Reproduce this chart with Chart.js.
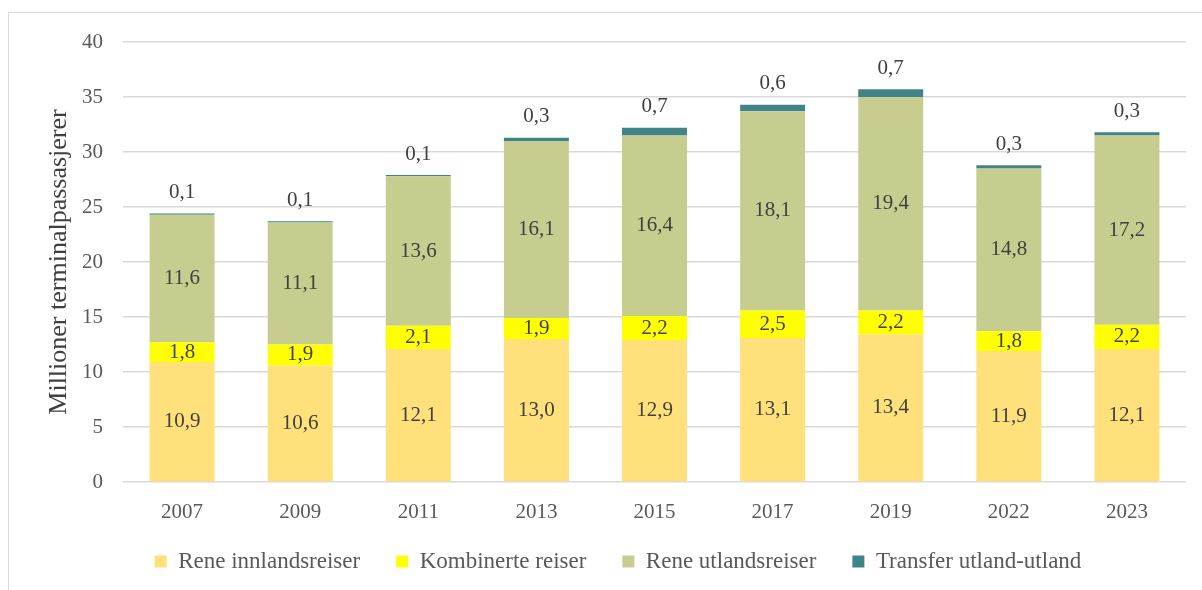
<!DOCTYPE html>
<html>
<head>
<meta charset="utf-8">
<script src="https://cdn.jsdelivr.net/npm/chart.js@4/dist/chart.umd.min.js"></script>
<style>
  html, body { margin: 0; padding: 0; background: #fff; }
  #wrap { position: relative; width: 1202px; height: 590px; overflow: hidden; }
  #frame { position: absolute; left: 8px; top: 12px; width: 1300px; height: 700px;
           border-left: 1.5px solid #d9d9d9; border-top: 1.5px solid #d9d9d9; }
  canvas { position: absolute; left: 0; top: 0; }
</style>
</head>
<body>
<div id="wrap">
  <div id="frame"></div>
  <canvas id="c" width="1202" height="590"></canvas>
</div>
<script>
// år og verdier (millioner terminalpassasjerer)
var years = ['2007', '2009', '2011', '2013', '2015', '2017', '2019', '2022', '2023'];
var innland = [10.9, 10.6, 12.1, 13.0, 12.9, 13.1, 13.4, 11.9, 12.1];
var kombinert = [1.8, 1.9, 2.1, 1.9, 2.2, 2.5, 2.2, 1.8, 2.2];
var utland = [11.6, 11.1, 13.6, 16.1, 16.4, 18.1, 19.4, 14.8, 17.2];
var transfer = [0.1, 0.1, 0.1, 0.3, 0.7, 0.6, 0.7, 0.3, 0.3];
var seriesNames = ['Rene innlandsreiser', 'Kombinerte reiser', 'Rene utlandsreiser', 'Transfer utland-utland'];
var yTicks = [0, 5, 10, 15, 20, 25, 30, 35, 40];

var FONT = '"Liberation Serif", "Times New Roman", serif';

function fmt(v) {
    return v.toFixed(1).replace('.', ',');
}

// verdietiketter i og over stolpene
var labelPlugin = {
    id: 'barLabels',
    afterLayout: function (chart) {
        // flytt forklaringen litt
        chart.legend.left += 25;
        chart.legend.right += 25;
        chart.legend.top -= 6;
        chart.legend.bottom -= 6;
    },
    afterDatasetsDraw: function (chart) {
        var ctx = chart.ctx;
        ctx.save();
        ctx.font = '21px ' + FONT;
        ctx.fillStyle = '#404040';
        ctx.textAlign = 'center';
        ctx.textBaseline = 'middle';
        chart.data.datasets.forEach(function (ds, di) {
            var meta = chart.getDatasetMeta(di);
            meta.data.forEach(function (bar, i) {
                var v = ds.data[i];
                if (di === 3) {
                    ctx.fillText(fmt(v), bar.x, bar.y - 21);
                } else {
                    ctx.fillText(fmt(v), bar.x, (bar.y + bar.base) / 2);
                }
            });
        });
        ctx.restore();
    }
};

new Chart(document.getElementById('c').getContext('2d'), {
    type: 'bar',
    data: {
        labels: years,
        datasets: [
            { label: seriesNames[0], data: innland, backgroundColor: '#ffe07a' },
            { label: seriesNames[1], data: kombinert, backgroundColor: '#ffff00' },
            { label: seriesNames[2], data: utland, backgroundColor: '#c6cd8f' },
            { label: seriesNames[3], data: transfer, backgroundColor: '#3f8488' }
        ]
    },
    options: {
        responsive: false,
        animation: false,
        layout: { padding: { top: 42, right: 16, left: 0, bottom: 1 } },
        datasets: { bar: { categoryPercentage: 1, barPercentage: 0.55 } },
        scales: {
            x: {
                stacked: true,
                grid: { display: false },
                border: { display: false },
                ticks: { color: '#595959', font: { family: FONT, size: 21 }, padding: 10 },
                afterFit: function (s) { s.height = 38; }
            },
            y: {
                stacked: true,
                min: 0,
                max: 40,
                afterBuildTicks: function (s) { s.ticks = yTicks.map(function (v) { return { value: v }; }); },
                grid: { color: '#d9d9d9', lineWidth: 1.5, drawTicks: false },
                border: { display: false },
                ticks: { color: '#595959', font: { family: FONT, size: 21 }, padding: 20 },
                title: {
                    display: true,
                    text: 'Millioner terminalpassasjerer',
                    color: '#404040',
                    font: { family: FONT, size: 26 },
                    padding: { top: 44, bottom: 0 }
                },
                afterFit: function (s) { s.width = 123; }
            }
        },
        plugins: {
            legend: {
                position: 'bottom',
                labels: {
                    color: '#595959',
                    font: { family: FONT, size: 23 },
                    boxWidth: 12,
                    boxHeight: 12,
                    padding: 36
                }
            },
            tooltip: { enabled: false }
        }
    },
    plugins: [labelPlugin]
});
</script>
</body>
</html>
